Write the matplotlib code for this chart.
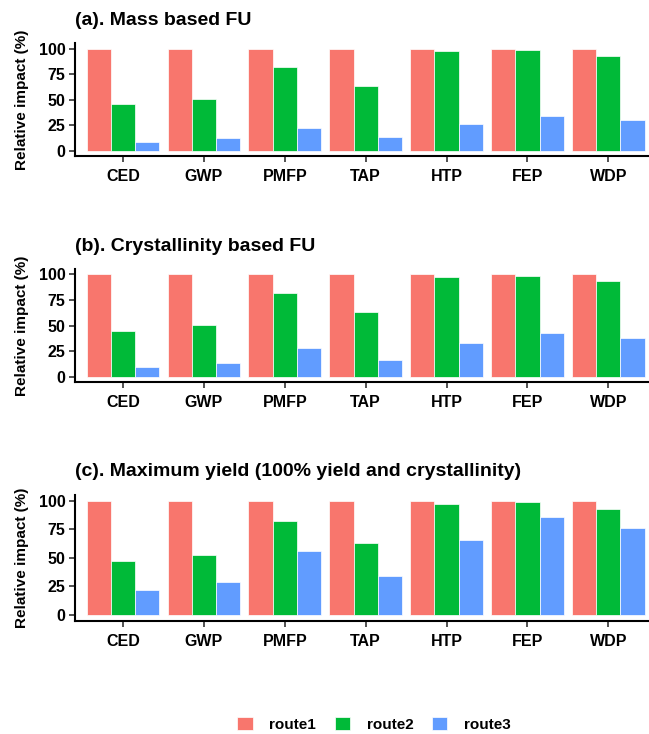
import matplotlib.pyplot as plt
from matplotlib.patches import Patch

plt.rcParams['font.family'] = ['Liberation Sans', 'DejaVu Sans']
plt.rcParams['font.weight'] = 'bold'

categories = ['CED', 'GWP', 'PMFP', 'TAP', 'HTP', 'FEP', 'WDP']
routes = ['route1', 'route2', 'route3']
colors = ['#F8766D', '#00BA38', '#619CFF']

# (a) mass based FU
mass_r1 = [100, 100, 100, 100, 100, 100, 100]
mass_r2 = [45.5, 50.5, 81.7, 63.2, 97.7, 98.6, 92.8]
mass_r3 = [8.8, 12.1, 22.5, 14.0, 25.8, 33.6, 30.3]

# (b) crystallinity based FU
cryst_r1 = [100, 100, 100, 100, 100, 100, 100]
cryst_r2 = [44.9, 50.2, 81.4, 62.9, 97.7, 98.6, 93.0]
cryst_r3 = [9.8, 13.1, 28.0, 16.6, 32.6, 42.4, 37.8]

# (c) maximum yield
max_r1 = [100, 100, 100, 100, 100, 100, 100]
max_r2 = [47.2, 52.8, 81.9, 63.4, 97.4, 98.9, 93.0]
max_r3 = [22.0, 29.3, 56.3, 34.3, 65.7, 85.4, 76.0]

panels = [
    ('(a). Mass based FU', [mass_r1, mass_r2, mass_r3]),
    ('(b). Crystallinity based FU', [cryst_r1, cryst_r2, cryst_r3]),
    ('(c). Maximum yield (100% yield and crystallinity)', [max_r1, max_r2, max_r3]),
]

W, H = 649, 734
fig = plt.figure(figsize=(W / 100, H / 100), dpi=100)

# axes boxes in pixels: top, bottom ; title baseline
boxes = [(43.4, 156.0, 25.0), (269.2, 381.8, 250.7), (495.0, 620.7, 475.7)]
left_px = 75

for (title, series), (top, bot, tb) in zip(panels, boxes):
    ax = fig.add_axes([left_px / W, (H - bot) / H, (W - left_px) / W, (bot - top) / H])
    x = range(1, len(categories) + 1)
    for j, vals in enumerate(series):
        ax.bar([i + (j - 1) * 0.3 for i in x], vals, width=0.3,
               color=colors[j], edgecolor='white', linewidth=0.5)
    ax.set_xlim(0.406, 7.503)
    ax.set_ylim(-5, 105)
    ax.set_yticks([0, 25, 50, 75, 100])
    ax.set_xticks(list(x))
    ax.set_xticklabels(categories)
    for s in ['top', 'right']:
        ax.spines[s].set_visible(False)
    for s in ['left', 'bottom']:
        ax.spines[s].set_linewidth(1.5)
        ax.spines[s].set_color('black')
    ax.tick_params(axis='both', length=4, width=1.2, color='#333333',
                   labelsize=11.5, labelcolor='black')
    ax.tick_params(axis='y', pad=3)
    ax.tick_params(axis='x', pad=5.5)
    ax.set_ylabel('Relative impact (%)', fontsize=11, fontweight='bold')
    ax.yaxis.set_label_coords((29 - left_px) / (W - left_px), 0.5)
    fig.text(left_px / W, (H - tb) / H, title, fontsize=14, fontweight='bold',
             ha='left', va='baseline')

handles = [Patch(facecolor=c, edgecolor='white', linewidth=0.5) for c in colors]
fig.legend(handles, routes, ncol=3, loc='center', bbox_to_anchor=(374 / W, 9.5 / H),
           frameon=False, handlelength=1.0, handleheight=0.9, handletextpad=1.1,
           columnspacing=1.2, prop={'size': 11, 'weight': 'bold'})

fig.savefig('out.png', dpi=100)
